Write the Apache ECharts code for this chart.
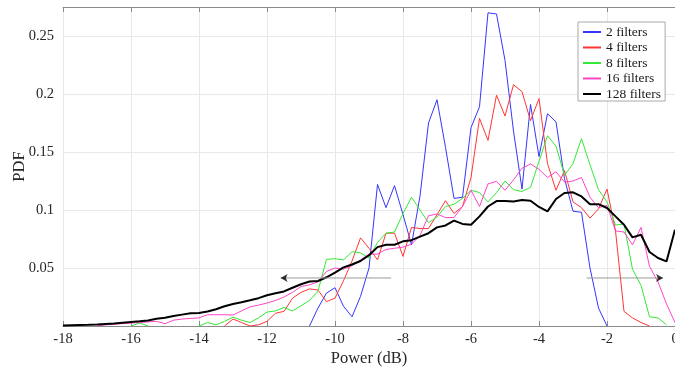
<!DOCTYPE html>
<html>
<head>
<meta charset="utf-8">
<script src="https://cdn.jsdelivr.net/npm/echarts@6/dist/echarts.min.js"></script>
<style>
  html, body { margin: 0; padding: 0; background: #fff; }
  #pdf { width: 675px; height: 368px; }
</style>
</head>
<body>
<div id="pdf"></div>
<script>
var Chart_PDF = echarts.init(document.getElementById('pdf'));

// power bins (dB), 0.25 dB step
var powerDb = [-18, -17.75, -17.5, -17.25, -17, -16.75, -16.5, -16.25, -16, -15.75, -15.5, -15.25,
  -15, -14.75, -14.5, -14.25, -14, -13.75, -13.5, -13.25, -13, -12.75, -12.5, -12.25,
  -12, -11.75, -11.5, -11.25, -11, -10.75, -10.5, -10.25, -10, -9.75, -9.5, -9.25,
  -9, -8.75, -8.5, -8.25, -8, -7.75, -7.5, -7.25, -7, -6.75, -6.5, -6.25,
  -6, -5.75, -5.5, -5.25, -5, -4.75, -4.5, -4.25, -4, -3.75, -3.5, -3.25,
  -3, -2.75, -2.5, -2.25, -2, -1.75, -1.5, -1.25, -1, -0.75, -0.5, -0.25, 0];

var seriesNames = ['2 filters', '4 filters', '8 filters', '16 filters', '128 filters'];

var pdf2 = [null, null, null, null, null, null, null, null, null, null, null, null,
  null, null, null, null, null, null, null, null, null, null, null, null,
  null, null, null, null, null, 0, 0.0155, 0.0284, 0.033, 0.017, 0.008, 0.0255,
  0.05, 0.122, 0.102, 0.121, 0.096, 0.070, 0.112, 0.175, 0.195, 0.154, 0.110, 0.111,
  0.171, 0.189, 0.270, 0.269, 0.229, 0.168, 0.118, 0.191, 0.146, 0.183, 0.176, 0.127,
  0.099, 0.098, 0.05, 0.0155, 0, null, null, null, null, null, null, null, null];

var pdf4 = [null, null, null, null, null, null, null, null, null, null, null, null,
  null, null, null, null, null, null, null, 0, 0.006, 0.003, 0, 0.001,
  0.004, 0.011, 0.0126, 0.024, 0.029, 0.032, 0.031, 0.021, 0.024, 0.039, 0.056, 0.076,
  0.067, 0.057, 0.080, 0.080, 0.060, 0.085, 0.084, 0.084, 0.096, 0.108, 0.097, 0.103,
  0.128, 0.179, 0.160, 0.199, 0.181, 0.208, 0.202, 0.177, 0.196, 0.14, 0.117, 0.134,
  0.107, 0.102, 0.093, 0.101, 0.118, 0.082, 0.0126, 0.007, 0.003, 0, null, null, null];

var pdf8 = [null, null, null, null, null, null, null, null, 0, 0.0026, 0, null,
  null, null, null, null, 0, 0.003, 0.001, 0.004, 0.0076, 0.005, 0.003, 0.007,
  0.012, 0.013, 0.016, 0.013, 0.0175, 0.022, 0.03, 0.0575, 0.058, 0.057, 0.064, 0.063,
  0.0586, 0.072, 0.080, 0.081, 0.097, 0.111, 0.100, 0.089, 0.094, 0.103, 0.105, 0.110,
  0.117, 0.115, 0.107, 0.115, 0.125, 0.1175, 0.116, 0.1195, 0.142, 0.164, 0.155, 0.130,
  0.14, 0.1615, 0.139, 0.1175, 0.107, 0.087, 0.088, 0.049, 0.035, 0.008, 0.007, 0.001, null];

var pdf16 = [null, null, null, null, 0, 0.001, 0.0015, 0.002, 0.0025, 0.003, 0.0035, 0.004,
  0.002, 0.005, 0.006, 0.0065, 0.007, 0.0097, 0.0097, 0.0097, 0.0095, 0.013, 0.0165, 0.018,
  0.0198, 0.022, 0.025, 0.029, 0.034, 0.0355, 0.038, 0.047, 0.050, 0.049, 0.052, 0.057,
  0.062, 0.062, 0.066, 0.067, 0.068, 0.0705, 0.078, 0.095, 0.0966, 0.0935, 0.0935, 0.103,
  0.117, 0.103, 0.1225, 0.1247, 0.117, 0.126, 0.136, 0.1397, 0.135, 0.128, 0.133, 0.124,
  0.125, 0.128, 0.111, 0.102, 0.104, 0.082, 0.081, 0.070, 0.085, 0.0514, 0.038, 0.019, 0.003];

var pdf128 = [0.0005, 0.0007, 0.0009, 0.001, 0.0012, 0.0017, 0.0022, 0.0028, 0.0034, 0.004, 0.0048, 0.0062,
  0.0072, 0.0086, 0.0098, 0.011, 0.0112, 0.0125, 0.0145, 0.017, 0.019, 0.0205, 0.0222, 0.024,
  0.0265, 0.0283, 0.0298, 0.033, 0.036, 0.0384, 0.0388, 0.042, 0.046, 0.0505, 0.053, 0.056,
  0.061, 0.068, 0.070, 0.070, 0.073, 0.074, 0.077, 0.080, 0.085, 0.0867, 0.0908, 0.088,
  0.0873, 0.0945, 0.103, 0.1077, 0.1077, 0.1074, 0.1086, 0.108, 0.1026, 0.0988, 0.1095, 0.1147,
  0.1152, 0.1117, 0.105, 0.105, 0.1017, 0.0945, 0.0873, 0.0764, 0.0787, 0.0638, 0.0586, 0.0557, 0.083];

// arrow annotations: [tail dB, tip dB], level
var arrowLeft = [-8.35, -11.6];
var arrowRight = [-2.6, -0.35];
var arrowLevel = 0.0414;

var lineColors = ['#3535ff', '#ff3535', '#35e835', '#ff45c8', '#000000'];
var lineWidths = [1, 1, 1, 1, 2];
var allPdf = [pdf2, pdf4, pdf8, pdf16, pdf128];

function pairUp(values) {
  var res = [];
  for (var i = 0; i < powerDb.length; i++) {
    res.push([powerDb[i], values[i]]);
  }
  return res;
}

var serif = 'Liberation Serif';
var series = [];

for (var s = 0; s < allPdf.length; s++) {
  series.push({
    name: seriesNames[s],
    type: 'line',
    data: pairUp(allPdf[s]),
    symbol: 'none',
    showSymbol: false,
    connectNulls: false,
    color: lineColors[s],
    lineStyle: { color: lineColors[s], width: lineWidths[s] },
    z: 3 + s
  });
}

// arrow shafts
[arrowLeft, arrowRight].forEach(function (a) {
  series.push({
    type: 'line',
    data: [[a[0], arrowLevel], [a[1], arrowLevel]],
    symbol: 'none',
    silent: true,
    lineStyle: { color: '#9a9a9a', width: 1 },
    z: 9
  });
});
// arrow heads
series.push({
  type: 'scatter',
  data: [[arrowLeft[1], arrowLevel]],
  symbol: 'arrow',
  symbolRotate: 90,
  symbolSize: [6, 7],
  itemStyle: { color: '#000' },
  silent: true,
  z: 10
});
series.push({
  type: 'scatter',
  data: [[arrowRight[1], arrowLevel]],
  symbol: 'arrow',
  symbolRotate: -90,
  symbolSize: [6, 7],
  itemStyle: { color: '#000' },
  silent: true,
  z: 10
});

option_PDF = {
  backgroundColor: '#fff',
  animation: false,
  grid: {
    left: 63,
    right: 0,
    top: 7,
    bottom: 42,
    containLabel: false,
    outerBoundsMode: 'none'
  },
  legend: {
    data: seriesNames,
    orient: 'vertical',
    left: 578,
    top: 22,
    padding: [3, 4, 0, 4],
    itemWidth: 18,
    itemHeight: 12,
    itemGap: 1.5,
    backgroundColor: '#fff',
    borderColor: '#aaaaaa',
    borderWidth: 1,
    itemStyle: { opacity: 0 },
    textStyle: { fontFamily: serif, fontSize: 13.5, color: '#1a1a1a', lineHeight: 13.5 }
  },
  xAxis: [{
    type: 'value',
    min: -18,
    max: 0,
    interval: 2,
    name: 'Power (dB)',
    nameLocation: 'middle',
    nameGap: 24,
    nameMoveOverlap: false,
    nameTextStyle: { fontFamily: serif, fontSize: 16.5, color: '#262626' },
    axisLine: { show: true, lineStyle: { color: '#8a8a8a' } },
    axisTick: { show: true, inside: true, length: 5, lineStyle: { color: '#8a8a8a' } },
    axisLabel: { fontFamily: serif, fontSize: 14.5, color: '#262626', margin: 6 },
    splitLine: { show: true, lineStyle: { color: '#e8e8e8' } }
  }, {
    type: 'value',
    position: 'top',
    min: -18,
    max: 0,
    interval: 2,
    axisLine: { show: true, lineStyle: { color: '#8a8a8a' } },
    axisTick: { show: true, inside: true, length: 5, lineStyle: { color: '#8a8a8a' } },
    axisLabel: { show: false },
    splitLine: { show: false }
  }],
  yAxis: {
    type: 'value',
    min: 0,
    max: 0.275,
    interval: 0.05,
    name: 'PDF',
    nameLocation: 'middle',
    nameGap: 35,
    nameMoveOverlap: false,
    nameTextStyle: { fontFamily: serif, fontSize: 16.5, color: '#262626' },
    axisLine: { show: true, lineStyle: { color: '#8a8a8a' } },
    axisTick: { show: true, inside: true, length: 5, lineStyle: { color: '#8a8a8a' } },
    axisLabel: {
      fontFamily: serif, fontSize: 14.5, color: '#262626', margin: 9,
      showMinLabel: false, showMaxLabel: false
    },
    splitLine: { show: true, lineStyle: { color: '#e8e8e8' } }
  },
  series: series
};
Chart_PDF.setOption(option_PDF);
</script>
</body>
</html>
